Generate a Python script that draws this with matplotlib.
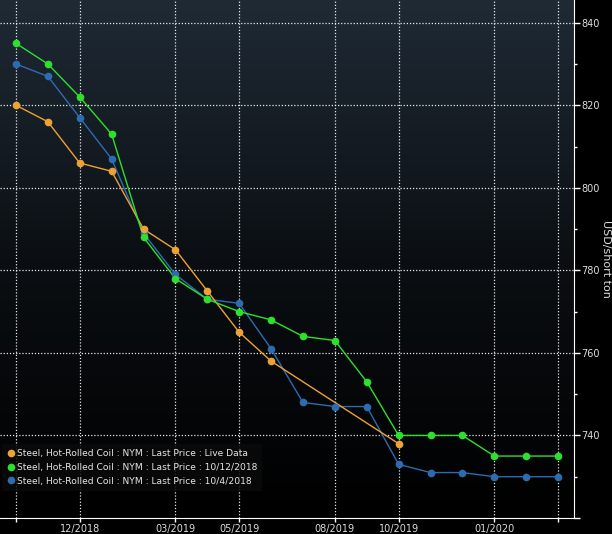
import numpy as np
import matplotlib
matplotlib.use('Agg')
import matplotlib.pyplot as plt
from matplotlib.colors import LinearSegmentedColormap
from matplotlib.ticker import MultipleLocator

# contract months (one point per month)
x = np.arange(18)
tick_pos = [0, 2, 5, 7, 10, 12, 15, 17]
tick_labels = ['', '12/2018', '03/2019', '05/2019', '08/2019', '10/2019', '01/2020', '']

# prices, USD/short ton
live = [820, 816, 806, 804, 790, 785, 775, 765, 758,
        np.nan, np.nan, np.nan, 738, np.nan, np.nan, np.nan, np.nan, np.nan]
oct12 = [835, 830, 822, 813, 788, 778, 773, 770, 768,
         764, 763, 753, 740, 740, 740, 735, 735, 735]
oct4 = [830, 827, 817, 807, 789, 779, 773, 772, 761,
        748, 747, 747, 733, 731, 731, 730, 730, 730]

names = ['Steel, Hot-Rolled Coil : NYM : Last Price : Live Data',
         'Steel, Hot-Rolled Coil : NYM : Last Price : 10/12/2018',
         'Steel, Hot-Rolled Coil : NYM : Last Price : 10/4/2018']
colors = ['#eda234', '#2de02d', '#2d6cb0']

plt.rcParams['font.family'] = ['DejaVu Sans']

fig = plt.figure(figsize=(6.12, 5.34), dpi=100, facecolor='black')
ax = fig.add_axes([0.0, 0.030, 0.938, 0.970])
ax.set_facecolor('black')

# background gradient
cmap = LinearSegmentedColormap.from_list('bg', ['#000000', '#0b0f13', '#1f2a35'])
grad = np.linspace(0, 1, 256).reshape(-1, 1)
ax.imshow(grad, aspect='auto', cmap=cmap, origin='lower',
          extent=[0, 1, 0, 1], transform=ax.transAxes, zorder=0)

# series, drawn bottom to top so green sits over blue
order = [2, 0, 1]
series = [live, oct12, oct4]
for i in order:
    y = np.array(series[i], dtype=float)
    m = ~np.isnan(y)
    ax.plot(x[m], y[m], color=colors[i], lw=1.0, zorder=3)
    ax.plot(x[m], y[m], 'o', color=colors[i], ms=4.5, zorder=4)

ax.set_xlim(-0.5, 17.5)
ax.set_ylim(720, 845.5)

ax.yaxis.tick_right()
ax.yaxis.set_label_position('right')
ax.set_yticks([720, 740, 760, 780, 800, 820, 840])
ax.set_yticklabels(['', '740', '760', '780', '800', '820', '840'])
ax.yaxis.set_minor_locator(MultipleLocator(10))
ax.set_xticks(tick_pos)
ax.set_xticklabels(tick_labels)

ax.tick_params(axis='y', which='major', colors='white', labelcolor='#dddddd',
               labelsize=7, length=4, width=1, pad=1, direction='out')
ax.tick_params(axis='y', which='minor', colors='white', length=2, width=1)
ax.tick_params(axis='x', colors='white', labelcolor='#dddddd',
               labelsize=7, length=3, width=1, pad=1)

ax.grid(True, which='major', color='white', linestyle=(0, (1, 1.5)), lw=0.9, alpha=0.9)
ax.set_axisbelow(False)
for gl in ax.get_xgridlines() + ax.get_ygridlines():
    gl.set_zorder(1)
ax.get_ygridlines()[0].set_visible(False)

for s in ['top', 'left']:
    ax.spines[s].set_visible(False)
ax.spines['right'].set_color('white')
ax.spines['bottom'].set_color('white')

ax.set_ylabel('USD/short ton', color='#dddddd', fontsize=8, rotation=270, labelpad=2)
ax.yaxis.set_label_coords(1.064, 0.50)

handles = [plt.Line2D([], [], ls='', marker='o', ms=4.5, color=c) for c in colors]
leg = ax.legend(handles, names, loc='lower left', bbox_to_anchor=(0.004, 0.052),
                fontsize=6.6, frameon=True, handlelength=0.6, handletextpad=0.35,
                labelspacing=0.5, borderpad=0.6, borderaxespad=0.0)
leg.get_frame().set_facecolor('#0a0a0a')
leg.get_frame().set_edgecolor('none')
leg.get_frame().set_alpha(0.85)
leg.get_frame().set_boxstyle('square', pad=0.0)
for t in leg.get_texts():
    t.set_color('#e6e6e6')
leg.set_zorder(5)

fig.savefig('out.png', dpi=100, facecolor='black')
